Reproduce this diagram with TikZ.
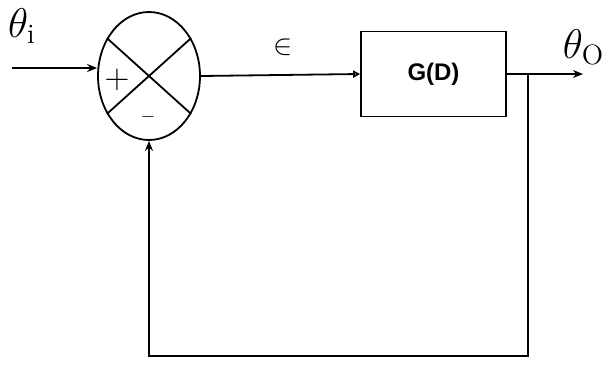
\documentclass[tikz,border=0pt]{standalone}
\usepackage{fontspec}
\setsansfont{Liberation Sans}
\usetikzlibrary{shapes.geometric,arrows.meta}
\begin{document}
\begin{tikzpicture}[x=0.5pt,y=-0.5pt,line width=0.9pt,
  sumnode/.style={ellipse,draw,minimum width=51pt,minimum height=64pt,inner sep=0pt},
  block/.style={draw,minimum width=72.5pt,minimum height=42.5pt,font=\sffamily\bfseries\large},
  sig/.style={-{Stealth[length=5pt,width=4pt]}},
  opensig/.style={-{Triangle[open,length=3.5pt,width=3.5pt]}}]
\useasboundingbox (0,0) rectangle (607,365);
%blocks
\node[sumnode] (sum) at (149,76) {};
\node[block] (plant) at (433.5,74) {G(D)};
%cross in the summing point
\draw (sum.42) -- (sum.222);
\draw (sum.138) -- (sum.318);
\node (plus) at (117,80) {\LARGE $+$};
\node (minus) at (148,117) {\small $-$};
%labels
\node (thin) at (22,26) {\fontsize{20}{22}\selectfont $\theta_{\mathrm{i}}$};
\node[anchor=south east,inner sep=0pt] (thout) at (605,66) {\fontsize{20}{22}\selectfont $\theta_{\mathrm{O}}$};
\node (err) at (283,47) {\Large $\in$};
%signals
\coordinate (in) at (12,68);
\coordinate (out) at (583,74);
\coordinate (br) at (528,74);
\coordinate (fb) at (528,356);
\draw[sig] (in) -- (sum.west |- in);
\draw[opensig] (sum.east) -- (plant.west);
\draw[sig] (plant.east) -- (out);
\draw[sig] (br) -- (fb) -| (sum.south);
\end{tikzpicture}
\end{document}
